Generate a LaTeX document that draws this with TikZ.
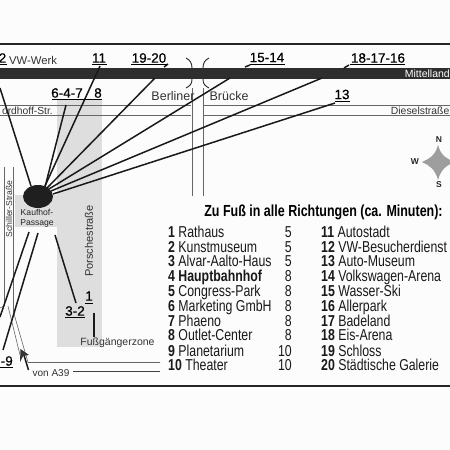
\documentclass[tikz,border=0pt]{standalone}
\usetikzlibrary{shapes.geometric}
\usepackage{fontspec}
\setmainfont{Liberation Sans}
\newfontfamily\lab[FakeBold=0.5]{Liberation Sans}
\newfontfamily\nar[FakeStretch=0.78]{Liberation Sans}
\newcommand{\fs}[1]{\fontsize{#1}{#1}\selectfont}
\tikzset{
  ray/.style={line width=1.5pt,color=black!90},
  rule/.style={line width=1.2pt,color=black!85},
  road/.style={line width=0.6pt,color=black!60},
  uline/.style={line width=0.9pt,color=black},
  brk/.style={line width=0.9pt,color=black!85},
  lbl/.style={inner sep=0pt,font=\lab\fs{13.5}},
  plain/.style={inner sep=0pt,text=black!80},
  rowtxt/.style={inner sep=0pt,anchor=base west,font=\nar\fs{15.8},text=black!90},
  rowmin/.style={inner sep=0pt,anchor=base east,font=\nar\fs{15.8},text=black!90},
  cmp/.style={inner sep=0pt,font=\bfseries\fs{8.5},text=black!85},
}
\newcommand{\row}[4]{%
  \node[rowtxt] at (#1,#2) {\textbf{#3} #4};}
\begin{document}
\begin{tikzpicture}[x=1pt,y=-1pt]
\useasboundingbox (0,0) rectangle (450,450);
\fill[black!1] (0,0) rectangle (450,450);
% grey zones
\fill[black!13] (57,100) rectangle (102,347);
\fill[black!13] (15,195) rectangle (58,227);
% frame rules
\coordinate (tl) at (0,44); \coordinate (tr) at (450,44);
\coordinate (bl) at (0,386); \coordinate (br) at (450,386);
\draw[rule] (tl) -- (tr);
\draw[rule,line width=1.5pt] (bl) -- (br);
% roads
\draw[road] (0,105) -- (191,105) (204,105) -- (450,105);
\draw[road] (0,115) -- (191,115) (204,115) -- (450,115);
\draw[road] (192,88) -- (192,196);
\draw[road] (203,88) -- (203,196);
\draw[road] (4.5,167) -- (4.5,306) (13.5,167) -- (13.5,312);
\draw[road] (0,308) -- (4,306) (8,306) -- (20,355);
\draw[road] (13.5,312) -- (28,362.5) -- (160,362.5);
\draw[road,color=black!75] (73,371) -- (160,371);
% canal
\fill[black!82] (0,68) rectangle (450,79);
\node[inner sep=0pt,anchor=east,text=white,font=\fs{10.5}] (canal) at (450,74) {Mittelland};
% bridge brackets
\draw[brk] (186,58) .. controls (190,60) and (192,63) .. (192,68);
\draw[brk] (192,79) .. controls (192,84) and (190,86) .. (186,88);
\draw[brk] (209,58) .. controls (205,60) and (203,63) .. (203,68);
\draw[brk] (203,79) .. controls (203,84) and (205,86) .. (209,88);
% hub
\node[ellipse,fill=black!88,minimum width=30pt,minimum height=23pt,inner sep=0pt] (hub) at (38,196.5) {};
% ray ends
\coordinate (a2) at (0,88);
\coordinate (a2s) at (31,186);
\coordinate (a11) at (100,66);
\coordinate (a11s) at (45,186);
\coordinate (a647) at (66,105);
\coordinate (a647s) at (45,187);
\coordinate (a19) at (168,64);
\coordinate (a19s) at (47,188);
\coordinate (a15) at (250,65);
\coordinate (a15s) at (49,189);
\coordinate (a18) at (349,65);
\coordinate (a18s) at (51,191);
\coordinate (a13) at (335,103);
\coordinate (a13s) at (53,194);
\draw[ray] (a2) -- (a2s);
\draw[ray] (a11) -- (a11s);
\draw[ray] (a647) -- (a647s);
\draw[ray] (a19s) -- (155,78);
\draw[ray] (164,67) -- (a19);
\draw[ray] (a15s) -- (230,78);
\draw[ray] (245,67) -- (a15);
\draw[ray] (a18s) -- (322,78);
\draw[ray] (344,68) -- (a18);
\draw[ray] (a13s) -- (a13);
% lower rays
\coordinate (b1) at (29,232); \coordinate (b1e) at (0,317);
\coordinate (b2) at (38,233); \coordinate (b2e) at (3,350);
\coordinate (b3) at (55,235); \coordinate (b3e) at (76,303);
\coordinate (b4) at (94,313); \coordinate (b4e) at (94,337);
\draw[ray] (b1) -- (b1e);
\draw[ray] (b2) -- (b2e);
\draw[ray] (b3) -- (b3e);
\draw[ray] (b4) -- (b4e);
% arrow from A39
\coordinate (ar1) at (28.5,370); \coordinate (ar2) at (23,352);
\draw[ray] (ar1) -- (ar2);
\fill[black!80] (20.5,349) -- (29,355) -- (23,356) -- (20,362) -- cycle;
% underlined labels
\node[lbl] (n2) at (2.5,58) {2};
\draw[uline] (0,64) -- (7,64);
\node[lbl] (n11) at (99,58) {11};
\draw[uline] (92,64) -- (107,64);
\node[lbl] (n19) at (149,58) {19-20};
\draw[uline] (131,64) -- (167,64);
\node[lbl] (n15) at (267,57.5) {15-14};
\draw[uline] (250,64) -- (285,64);
\node[lbl] (n18) at (378,58) {18-17-16};
\draw[uline] (350,64) -- (405,64);
\node[lbl] (n13) at (342,94.5) {13};
\draw[uline] (335,101) -- (350,101);
\node[lbl] (n647) at (67,93) {6-4-7};
\node[lbl] (n8) at (98,93) {8};
\draw[uline] (52,99) -- (102,99);
\node[lbl] (n1) at (89,296) {1};
\draw[uline] (85,303) -- (93,303);
\node[lbl] (n32) at (75,311) {3-2};
\draw[uline] (65,317) -- (85,317);
\node[lbl,anchor=east] (n9) at (13,361) {-9};
\draw[uline] (0,367) -- (13,367);
% plain text
\node[plain,font=\fs{11.3}] (vw) at (33,60.5) {VW-Werk};
\node[plain,font=\fs{12.5}] (ber) at (173,96) {Berliner};
\node[plain,font=\fs{12.5}] (bru) at (229,96) {Brücke};
\node[plain,anchor=east,font=\fs{10.3}] (nh) at (53,111) {ordhoff-Str.};
\node[plain,anchor=east,font=\fs{10.4}] (di) at (449.5,111) {Dieselstraße};
\node[plain,align=center,font=\fs{8.6},text=black!85] (kh) at (37,218) {Kaufhof-\\[1.5pt]Passage};
\node[plain,rotate=90,font=\fs{11}] (po) at (89,241) {Porschestraße};
\node[plain,rotate=90,font=\fs{8.6}] (sc) at (9,209) {Schiller-Straße};
\node[plain,font=\fs{10.5}] (fu) at (117.5,343) {Fußgängerzone};
\node[plain,font=\fs{10}] (a39) at (51,373) {von A39};
% compass
\coordinate (cc) at (438,162);
\fill[black!38] (438,145) .. controls (441,156) and (447,159) .. (455,162)
  .. controls (447,165) and (441,169) .. (438,180)
  .. controls (435,169) and (429,165) .. (422,162)
  .. controls (429,159) and (435,156) .. (438,145) -- cycle;
\node[cmp] (cn) at (439,140) {N};
\node[cmp] (cs) at (439,185) {S};
\node[cmp] (cw) at (415,161.5) {W};
% heading
\node[inner sep=0pt,font=\nar\bfseries\fs{16}] (head) at (323.5,212) {Zu Fuß in alle Richtungen (ca. Minuten):};
% table
\row{168}{237}{1}{Rathaus}
\row{168}{252}{2}{Kunstmuseum}
\row{168}{266.5}{3}{Alvar-Aalto-Haus}
\node[rowtxt] at (168,281.5) {\textbf{4 Hauptbahnhof}};
\row{168}{296}{5}{Congress-Park}
\row{168}{311.5}{6}{Marketing GmbH}
\row{168}{326}{7}{Phaeno}
\row{168}{340.5}{8}{Outlet-Center}
\row{168}{356}{9}{Planetarium}
\row{168}{370.5}{10}{Theater}
\foreach \y/\m in {237/5,252/5,266.5/5,281.5/8,296/8,311.5/8,326/8,340.5/8,356/10,370.5/10}
  \node[rowmin] at (292,\y) {\m};
\row{321}{237}{11}{Autostadt}
\row{321}{252}{12}{VW-Besucherdienst}
\row{321}{266.5}{13}{Auto-Museum}
\row{321}{281.5}{14}{Volkswagen-Arena}
\row{321}{296}{15}{Wasser-Ski}
\row{321}{311.5}{16}{Allerpark}
\row{321}{326}{17}{Badeland}
\row{321}{340.5}{18}{Eis-Arena}
\row{321}{356}{19}{Schloss}
\row{321}{370.5}{20}{Städtische Galerie}
\end{tikzpicture}
\end{document}
